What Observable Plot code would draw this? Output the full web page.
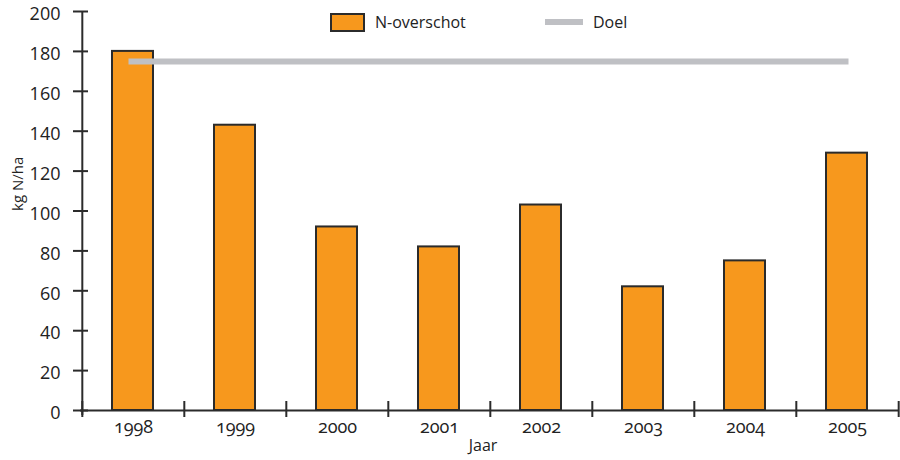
<!DOCTYPE html>
<html><head><meta charset="utf-8">
<script src="https://cdn.jsdelivr.net/npm/d3@7"></script>
<script src="https://cdn.jsdelivr.net/npm/@observablehq/plot@0.6"></script>
<style>
body{margin:0;background:#fff;}
#wrap{position:relative;width:900px;height:460px;font-family:"Open Sans",sans-serif;color:#222;}
#wrap svg{font-variant-numeric:oldstyle-nums;}
.lg{position:absolute;top:0;font-size:16px;line-height:20px;display:flex;align-items:center;}
.sw{display:inline-block;box-sizing:border-box;}
</style></head><body><div id="wrap"></div>
<script>
const years = ["1998","1999","2000","2001","2002","2003","2004","2005"];
const overschot = [180,143,92,82,103,62,75,129];
const doelYears = ["1998","2005"];
const doelValues = [175,175];
const yTicks = [0,20,40,60,80,100,120,140,160,180,200];
const seriesNames = ["N-overschot","Doel"];
const colors = {bar:"#f7981d", doel:"#bfc0c4", ink:"#2b2b2b"};

const data = years.map((y,i)=>({year:y, value:overschot[i]}));
const doel = doelYears.map((y,i)=>({year:y, value:doelValues[i]}));

const W = 900, H = 460, mL = 80, mR = 1, mT = 11, mB = 50;
const bw = (W - mL - mR) / years.length;

const chart = Plot.plot({
  width: W, height: H,
  marginLeft: mL, marginRight: mR, marginTop: mT, marginBottom: mB,
  style: {fontFamily: '"Open Sans", sans-serif', fontSize: "15px", color: "#222", background: "#fff"},
  x: {type: "band", domain: years, padding: 0},
  y: {domain: [0, 200]},
  marks: [
    Plot.barY(data, {x: "year", y: "value", fill: colors.bar, stroke: colors.ink, strokeWidth: 2, insetLeft: 30, insetRight: 31}),
    Plot.line(doel, {x: "year", y: "value", stroke: colors.doel, strokeWidth: 6, strokeLinecap: "square", dx: -2}),
    Plot.ruleY([0], {stroke: colors.ink, strokeWidth: 2}),
    Plot.ruleX([years[0]], {stroke: colors.ink, strokeWidth: 2, dx: -bw/2, insetBottom: -5}),
    Plot.ruleX(years, {x: d => d, y1: 0, y2: 0, stroke: colors.ink, strokeWidth: 2, dx: -bw/2, insetTop: 7, insetBottom: 9}),
    Plot.ruleX([years[years.length-1]], {x: d => d, y1: 0, y2: 0, stroke: colors.ink, strokeWidth: 2, dx: bw/2, insetTop: 7, insetBottom: 9}),
    Plot.axisY({ticks: yTicks, tickSize: 15, dx: 8, tickFormat: () => "", label: null, stroke: colors.ink, strokeWidth: 2}),
    Plot.axisY({ticks: yTicks, tickSize: 0, tickPadding: 20, dy: 3, label: null, fill: "#222", fontSize: 18}),
    Plot.axisX({tickSize: 0, tickPadding: 10, label: null, fill: "#222", fontSize: 18}),
    Plot.text(["kg N/ha"], {text: d => d, frameAnchor: "left", rotate: -90, dx: -62, fontSize: 15, fill: "#222"}),
    Plot.text(["Jaar"], {text: d => d, frameAnchor: "bottom", dy: 40, dx: -7, fontSize: 16, fill: "#222"})
  ]
});
const wrap = document.getElementById("wrap");
wrap.appendChild(chart);

const l1 = document.createElement("div");
l1.className = "lg"; l1.style.left = "330px"; l1.style.top = "12px";
l1.innerHTML = `<span class="sw" style="width:35px;height:19px;background:${colors.bar};border:2px solid ${colors.ink}"></span><span style="margin-left:10px">${seriesNames[0]}</span>`;
wrap.appendChild(l1);
const l2 = document.createElement("div");
l2.className = "lg"; l2.style.left = "545px"; l2.style.top = "12px";
l2.innerHTML = `<span class="sw" style="width:38px;height:6px;background:${colors.doel}"></span><span style="margin-left:10px">${seriesNames[1]}</span>`;
wrap.appendChild(l2);
</script>
</body></html>
